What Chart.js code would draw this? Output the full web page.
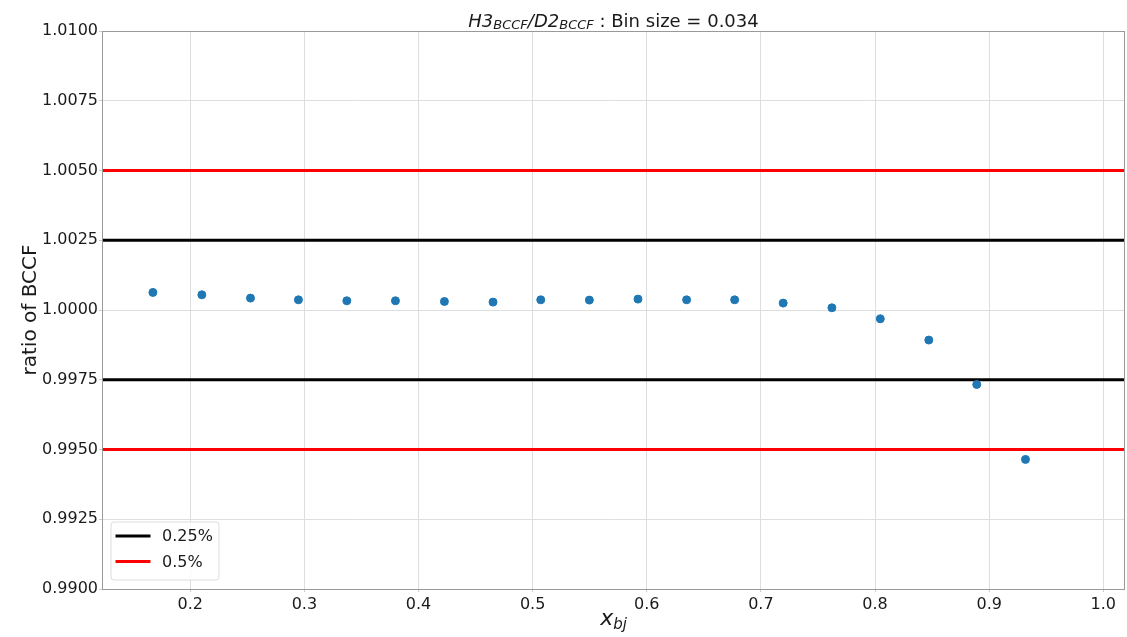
<!DOCTYPE html>
<html>
<head>
<meta charset="utf-8">
<script src="https://cdn.jsdelivr.net/npm/chart.js@4/dist/chart.umd.min.js"></script>
<style>
  html, body { margin: 0; padding: 0; background: #fff; }
  #wrap { width: 1127px; height: 637px; position: relative; }
</style>
</head>
<body>
<div id="wrap"><canvas id="c" width="1127" height="637"></canvas></div>
<script>
// ---- data ----
const xBj = [0.1673, 0.2102, 0.2528, 0.2948, 0.3372, 0.3798, 0.4227, 0.4653, 0.5071, 0.5497,
             0.5923, 0.6349, 0.6770, 0.7195, 0.7622, 0.8046, 0.8471, 0.8891, 0.9318];
const ratio = [1.00063, 1.000545, 1.000426, 1.000365, 1.00033, 1.00033, 1.000305, 1.000283, 1.000365, 1.000355,
               1.00039, 1.000365, 1.000365, 1.000247, 1.000079, 0.999685, 0.998922, 0.997331, 0.994645];
const thresholds = [0.0025, 0.005];
const thresholdLabels = ['0.25%', '0.5%'];
const thresholdColors = ['#000000', '#ff0000'];
const xTicks = [0.2, 0.3, 0.4, 0.5, 0.6, 0.7, 0.8, 0.9, 1.0];
const yTicks = [0.99, 0.9925, 0.995, 0.9975, 1.0, 1.0025, 1.005, 1.0075, 1.01];
const xRange = [0.1227, 1.019];
const yRange = [0.99, 1.01];
const titleParts = [
  { t: 'H3', italic: true }, { t: 'BCCF', italic: true, sub: true },
  { t: '/D2', italic: true }, { t: 'BCCF', italic: true, sub: true },
  { t: ' : Bin size = 0.034', italic: false }
];
const xLabelParts = [{ t: 'x', italic: true }, { t: 'bj', italic: true, sub: true }];
const yLabel = 'ratio of BCCF';

// ---- datasets ----
const datasets = [{
  type: 'scatter',
  label: 'ratio',
  data: xBj.map((x, i) => ({ x: x, y: ratio[i] })),
  backgroundColor: '#1f77b4',
  borderColor: '#1f77b4',
  pointRadius: 4,
  pointHoverRadius: 4,
  showLine: false
}];
thresholds.forEach((t, k) => {
  [1 + t, 1 - t].forEach((v, j) => {
    datasets.push({
      type: 'line',
      label: thresholdLabels[k],
      legendMain: j === 0,
      data: [{ x: xRange[0], y: v }, { x: xRange[1], y: v }],
      borderColor: thresholdColors[k],
      backgroundColor: thresholdColors[k],
      borderWidth: 3,
      pointRadius: 0,
      fill: false
    });
  });
});

const FONT = "'DejaVu Sans', sans-serif";
const TEXT = '#1a1a1a';

function drawRich(ctx, parts, cx, baseline, size, subSize, subShift) {
  const fontOf = p => (p.italic ? 'italic ' : '') + (p.sub ? subSize : size) + 'px ' + FONT;
  let total = 0;
  parts.forEach(p => { ctx.font = fontOf(p); p._w = ctx.measureText(p.t).width; total += p._w; });
  let x = cx - total / 2;
  ctx.textAlign = 'left';
  ctx.textBaseline = 'alphabetic';
  parts.forEach(p => {
    ctx.font = fontOf(p);
    ctx.fillText(p.t, x, baseline + (p.sub ? subShift : 0));
    x += p._w;
  });
}

const decorPlugin = {
  id: 'decor',
  afterDatasetsDraw(chart) {
    const { ctx, chartArea: a } = chart;
    ctx.save();
    ctx.strokeStyle = '#999999';
    ctx.lineWidth = 1;
    ctx.strokeRect(Math.round(a.left) + 0.5, Math.round(a.top) + 0.5, Math.round(a.right - a.left) - 1, Math.round(a.bottom - a.top));
    const items = chart.data.datasets.filter(d => d.legendMain);
    const bx = a.left + 9, by = a.bottom - 67, bw = 108, bh = 58;
    ctx.globalAlpha = 0.85;
    ctx.fillStyle = '#ffffff';
    ctx.beginPath();
    ctx.roundRect(bx, by, bw, bh, 3);
    ctx.fill();
    ctx.globalAlpha = 1;
    ctx.strokeStyle = '#dddddd';
    ctx.lineWidth = 1;
    ctx.stroke();
    items.forEach((d, i) => {
      const y = by + 14 + i * 25.6;
      ctx.strokeStyle = d.borderColor;
      ctx.lineWidth = 3;
      ctx.beginPath();
      ctx.moveTo(bx + 4.5, y);
      ctx.lineTo(bx + 39.5, y);
      ctx.stroke();
      ctx.fillStyle = TEXT;
      ctx.font = '16px ' + FONT;
      ctx.textAlign = 'left';
      ctx.textBaseline = 'middle';
      ctx.fillText(d.label, bx + 51, y + 1);
    });
    ctx.restore();
  },
  afterDraw(chart) {
    const { ctx, chartArea: a } = chart;
    ctx.save();
    ctx.fillStyle = TEXT;
    drawRich(ctx, titleParts, (a.left + a.right) / 2, 26.7, 18, 13, 2.5);
    drawRich(ctx, xLabelParts, (a.left + a.right) / 2, 625, 22, 15, 4);
    ctx.restore();
  }
};

new Chart(document.getElementById('c'), {
  data: { datasets: datasets },
  options: {
    responsive: false,
    animation: false,
    events: [],
    layout: { autoPadding: false, padding: { top: 31, right: 2, left: 0, bottom: 0 } },
    plugins: {
      legend: { display: false },
      title: { display: false },
      tooltip: { enabled: false }
    },
    scales: {
      x: {
        type: 'linear',
        min: xRange[0],
        max: xRange[1],
        afterBuildTicks: s => { s.ticks = xTicks.map(v => ({ value: v })); },
        afterFit: s => { s.height = 48; s.paddingLeft = 0; s.paddingRight = 0; },
        border: { display: false },
        grid: { color: '#dedede', lineWidth: 1, drawTicks: true, tickLength: 3, tickColor: '#cccccc' },
        ticks: {
          padding: 3,
          color: TEXT,
          font: { family: FONT, size: 16 },
          maxRotation: 0,
          callback: v => v.toFixed(1)
        }
      },
      y: {
        type: 'linear',
        min: yRange[0],
        max: yRange[1],
        afterBuildTicks: s => { s.ticks = yTicks.map(v => ({ value: v })); },
        afterFit: s => { s.width = 102; s.paddingTop = 0; s.paddingBottom = 0; },
        border: { display: false },
        grid: { color: '#dedede', lineWidth: 1, drawTicks: true, tickLength: 3, tickColor: '#cccccc' },
        title: {
          display: true,
          text: yLabel,
          color: TEXT,
          font: { family: FONT, size: 20 },
          padding: { top: 19, bottom: 0 }
        },
        ticks: {
          padding: 1,
          color: TEXT,
          font: { family: FONT, size: 16 },
          callback: v => v.toFixed(4)
        }
      }
    }
  },
  plugins: [decorPlugin]
});
</script>
</body>
</html>
